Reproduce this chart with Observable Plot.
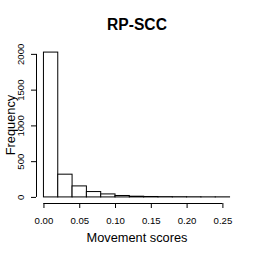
<!DOCTYPE html>
<html>
<head>
<meta charset="utf-8">
<script src="https://cdn.jsdelivr.net/npm/d3@7"></script>
<script src="https://cdn.jsdelivr.net/npm/@observablehq/plot@0.6"></script>
<style>
  html, body { margin: 0; padding: 0; background: #fff; }
  #chart svg { display: block; }
</style>
</head>
<body>
<div id="chart"></div>
<script>
// Histogram bins (bin width 0.02) and counts
const binStart = [0.00, 0.02, 0.04, 0.06, 0.08, 0.10, 0.12, 0.14, 0.16, 0.18, 0.20, 0.22, 0.24];
const binEnd   = [0.02, 0.04, 0.06, 0.08, 0.10, 0.12, 0.14, 0.16, 0.18, 0.20, 0.22, 0.24, 0.26];
const counts   = [2025, 318, 154, 75, 42, 20, 10, 6, 4, 3, 2, 1, 1];
const xTicks = [0, 0.05, 0.10, 0.15, 0.20, 0.25];
const yTicks = [0, 500, 1000, 1500, 2000];
const title = "RP-SCC";
const xLabel = "Movement scores";
const yLabel = "Frequency";

const data = binStart.map((s, i) => ({x1: s, x2: binEnd[i], count: counts[i]}));
const xDomain = [-0.0104, 0.2704];
const yDomain = [-85, 2110];
const font = "'Liberation Sans', Arial, Helvetica, sans-serif";

const chart = Plot.plot({
  width: 273,
  height: 262,
  marginLeft: 36,
  marginRight: 36,
  marginTop: 46,
  marginBottom: 59,
  style: {fontFamily: font, background: "#fff", color: "#000"},
  x: {domain: xDomain},
  y: {domain: yDomain},
  marks: [
    Plot.rectY(data, {x1: "x1", x2: "x2", y1: 0, y2: "count", fill: "white", stroke: "black", strokeWidth: 1}),
    // axis lines (from first to last tick, like R)
    Plot.ruleY([yDomain[0]], {x1: xTicks[0], x2: xTicks[xTicks.length - 1], stroke: "black"}),
    Plot.ruleX([xDomain[0]], {y1: yTicks[0], y2: yTicks[yTicks.length - 1], stroke: "black"}),
    Plot.axisX({ticks: xTicks, tickFormat: ".2f", tickSize: 5, tickPadding: 9, fontSize: 9.6, label: null, stroke: "black"}),
    Plot.axisY({ticks: yTicks, tickFormat: () => "", tickSize: 5, label: null, stroke: "black"}),
    Plot.text(yTicks, {y: d => d, text: d => String(d), frameAnchor: "left", textAnchor: "middle", lineAnchor: "middle", rotate: -90, dx: -16, fontSize: 9.6, fill: "black"}),
    Plot.text([title], {frameAnchor: "top", textAnchor: "middle", lineAnchor: "middle", dy: -22, text: d => d, fontWeight: "bold", fontSize: 15.6, fill: "black"}),
    Plot.text([xLabel], {frameAnchor: "bottom", textAnchor: "middle", lineAnchor: "middle", dy: 34, text: d => d, fontSize: 12.8, fill: "black"}),
    Plot.text([yLabel], {frameAnchor: "left", textAnchor: "middle", lineAnchor: "middle", dx: -26, rotate: -90, text: d => d, fontSize: 12.8, fill: "black"})
  ]
});
document.getElementById("chart").appendChild(chart);
</script>
</body>
</html>
